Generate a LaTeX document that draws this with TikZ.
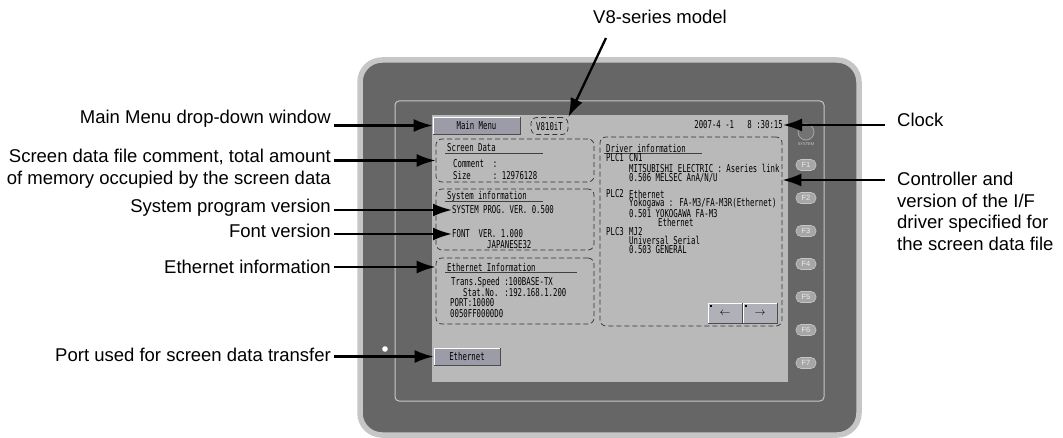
\documentclass[tikz,border=0pt]{standalone}
\usepackage{fontspec}
\setmainfont{Liberation Sans}
\newfontfamily\lcdfont[FakeStretch=0.68]{DejaVu Sans Mono}
\usepackage{tikz}
\usetikzlibrary{positioning,arrows.meta}

\definecolor{bezel}{HTML}{666666}
\definecolor{bezelrim}{HTML}{C6C6C6}
\definecolor{lcd}{HTML}{B9B9B9}
\definecolor{keyfill}{HTML}{9C9CA8}
\definecolor{fkeyfill}{HTML}{A6A6A6}

\tikzset{
	pointer/.style={line width=2.3pt, -{Latex[length=19pt,width=13pt]}}
}

\begin{document}
\begin{tikzpicture}[
			x=1pt, y=-1pt,
			lbl/.style={font=\fontsize{18.5}{21.5}\selectfont, inner sep=1pt},
			lcdtxt/.style={font=\lcdfont\fontsize{10.8}{10}\selectfont, text=black, inner sep=0pt},
			panel/.style={draw=black!80, line width=0.7pt, dash pattern=on 5pt off 3pt, rounded corners=6pt, inner sep=0pt},
			titlerule/.style={draw=black!75, line width=0.7pt},
			softkey/.style={lcdtxt, fill=keyfill, draw=black!70, line width=0.7pt},
			fkey/.style={fill=fkeyfill, draw=bezelrim, line width=0.6pt, rounded corners=5pt,
				minimum width=20pt, minimum height=11pt, inner sep=0pt,
				font=\fontsize{7.5}{7.5}\selectfont, text=white!92!black}
			]
			
			\useasboundingbox (0,0) rectangle (1063,438);
			
			%%%%%%%%%%%%%%%%%%%%%%%%%%%%%%%%%%%%%%%%%%%%%%%%%%%%%%%%%%%%
			% Bezel
			%%%%%%%%%%%%%%%%%%%%%%%%%%%%%%%%%%%%%%%%%%%%%%%%%%%%%%%%%%%%
			
			\draw[bezelrim, line width=5.5pt, fill=bezel, rounded corners=22pt] (360,60) rectangle (859,435);
			
			\draw[bezelrim, line width=1pt, rounded corners=4pt] (395,101) rectangle (824,401);
			
			\fill[lcd] (432,115) rectangle (788,382);
			
			\fill[white] (385,349) circle (2.8pt);
			
			%%%%%%%%%%%%%%%%%%%%%%%%%%%%%%%%%%%%%%%%%%%%%%%%%%%%%%%%%%%%
			% Side keys
			%%%%%%%%%%%%%%%%%%%%%%%%%%%%%%%%%%%%%%%%%%%%%%%%%%%%%%%%%%%%
			
			\node[circle, fill=black!55, draw=black!35, line width=0.8pt, minimum size=16pt, inner sep=0pt] (syskey) at (806,132) {};
			
			\node[font=\fontsize{4}{4}\selectfont, text=white!80!black, inner sep=0pt, below=2pt of syskey] (syslbl) {SYSTEM};
			
			\foreach \k in {1,...,7}
			\node[fkey] (f\k) at (806,132+33*\k) {F\k};
			
			%%%%%%%%%%%%%%%%%%%%%%%%%%%%%%%%%%%%%%%%%%%%%%%%%%%%%%%%%%%%
			% Top row of the screen
			%%%%%%%%%%%%%%%%%%%%%%%%%%%%%%%%%%%%%%%%%%%%%%%%%%%%%%%%%%%%
			
			\node[softkey, minimum width=87pt, minimum height=17pt] (menubtn) at (476.5,125.5) {Main Menu};
			
			\node[panel, lcdtxt, minimum width=37pt, minimum height=17pt] (model) at (549.5,126) {V810iT};
			
			\node[lcdtxt, anchor=east] (clock) at (783,125) {2007-4~-1~~~8~:30:15};
			
			%%%%%%%%%%%%%%%%%%%%%%%%%%%%%%%%%%%%%%%%%%%%%%%%%%%%%%%%%%%%
			% Left panels
			%%%%%%%%%%%%%%%%%%%%%%%%%%%%%%%%%%%%%%%%%%%%%%%%%%%%%%%%%%%%
			
			% Screen data
			
			\node[panel, minimum width=158pt, minimum height=43pt] (scrbox) at (515,160.5) {};
			
			\node[lcdtxt, anchor=west] (scrttl) at (447,148) {Screen Data};
			\draw[titlerule] ([xshift=-2pt,yshift=-1.5pt]scrttl.base west) -- ++(98,0);
			
			\node[lcdtxt, anchor=west] (comment) at (453,164) {Comment~~:};
			\node[lcdtxt, anchor=west] (size) at (453,175) {Size~~~~~:~12976128};
			
			% System information
			
			\node[panel, minimum width=158pt, minimum height=61pt] (sysbox) at (515,219.5) {};
			
			\node[lcdtxt, anchor=west] (systtl) at (447,197) {System information};
			\draw[titlerule] ([xshift=-2pt,yshift=-1.5pt]systtl.base west) -- ++(98,0);
			
			\node[lcdtxt, anchor=west] (sysver) at (452,210) {SYSTEM PROG. VER. 0.500};
			\node[lcdtxt, anchor=west] (fontver) at (452,234) {FONT~~VER. 1.000};
			\node[lcdtxt, anchor=west] (fontname) at (487,245) {JAPANESE32};
			
			% Ethernet information
			
			\node[panel, minimum width=158pt, minimum height=66pt] (ethbox) at (515,291) {};
			
			\node[lcdtxt, anchor=west] (ethttl) at (447,267) {Ethernet Information};
			\draw[titlerule] ([xshift=-2pt,yshift=-1.5pt]ethttl.base west) -- ++(132,0);
			
			\node[lcdtxt, anchor=west] (speed) at (451,283) {Trans.Speed :100BASE-TX};
			\node[lcdtxt, anchor=west] (statno) at (463,293) {Stat.No. :192.168.1.200};
			\node[lcdtxt, anchor=west] (port) at (450,303) {PORT:10000};
			\node[lcdtxt, anchor=west] (mac) at (450,314) {0050FF0000D0};
			
			\node[softkey, minimum width=66pt, minimum height=17pt] (ethbtn) at (467,356.5) {Ethernet};
			
			%%%%%%%%%%%%%%%%%%%%%%%%%%%%%%%%%%%%%%%%%%%%%%%%%%%%%%%%%%%%
			% Driver panel
			%%%%%%%%%%%%%%%%%%%%%%%%%%%%%%%%%%%%%%%%%%%%%%%%%%%%%%%%%%%%
			
			\node[panel, minimum width=182pt, minimum height=189pt] (drvbox) at (691,231.5) {};
			
			\node[lcdtxt, anchor=west] (drvttl) at (606,148) {Driver information};
			\draw[titlerule] ([xshift=-2pt,yshift=-1.5pt]drvttl.base west) -- ++(98,0);
			
			\foreach \x/\y/\txt in {
				606/158/PLC1, 629/158/CN1,
				629/168/{MITSUBISHI ELECTRIC : Aseries link},
				629/178/{0.506 MELSEC AnA/N/U},
				606/194/PLC2, 629/194/Ethernet,
				629/204/{Yokogawa : FA-M3/FA-M3R(Ethernet)},
				629/213.5/{0.501 YOKOGAWA FA-M3},
				658/222.5/Ethernet,
				606/231.5/PLC3, 629/231.5/MJ2,
				629/240.5/{Universal Serial},
				629/249.5/{0.503 GENERAL}}
			\node[lcdtxt, anchor=west] (drv\x-\y) at (\x,\y) {\txt};
			
			\node[softkey, fill=keyfill!80!white, minimum width=34pt, minimum height=20pt] (leftbtn) at (725,313) {$\leftarrow$};
			\node[softkey, fill=keyfill!80!white, minimum width=34pt, minimum height=20pt] (rightbtn) at (760,313) {$\rightarrow$};
			
			% key highlights
			
			\foreach \b in {menubtn,ethbtn,leftbtn,rightbtn}
			\draw[white, line width=0.8pt] ([shift={(0.5,-0.5)}]\b.south west) |- ([shift={(-0.5,0.5)}]\b.north east);
			
			\foreach \b in {leftbtn,rightbtn}
			\fill[black] ([shift={(2,2)}]\b.north west) rectangle ++(2,2);
			
			%%%%%%%%%%%%%%%%%%%%%%%%%%%%%%%%%%%%%%%%%%%%%%%%%%%%%%%%%%%%
			% Callouts
			%%%%%%%%%%%%%%%%%%%%%%%%%%%%%%%%%%%%%%%%%%%%%%%%%%%%%%%%%%%%
			
			\node[lbl, anchor=base east] (lblmenu) at (332,124) {Main Menu drop-down window};
			
			\node[lbl, anchor=north east, align=right] (lblscreen) at (332,148)
			{Screen data file comment, total amount\\of memory occupied by the screen data};
			
			\node[lbl, anchor=base east] (lblsys) at (332,213) {System program version};
			
			\node[lbl, anchor=base east] (lblfont) at (332,238) {Font version};
			
			\node[lbl, anchor=base east] (lbleth) at (332,274) {Ethernet information};
			
			\node[lbl, anchor=base east] (lblport) at (332,361) {Port used for screen data transfer};
			
			\node[lbl, anchor=base west] (lblclock) at (896,127) {Clock};
			
			\node[lbl, anchor=north west, align=left] (lblctrl) at (896,171)
			{Controller and\\version of the I/F\\driver specified for\\the screen data file};
			
			\node[lbl, anchor=base] (lblmodel) at (660,24) {V8-series model};
			
			\coordinate (ctrltip) at (drvbox.east |- 0,180);
			\coordinate (modeltail) at (606,38);
			
			% left side
			
			\draw[pointer, shorten <=2pt] (lblmenu.east |- menubtn) -- (menubtn.west);
			
			\draw[pointer, shorten <=2pt] (lblscreen.east |- scrbox) -- (scrbox.west);
			
			\draw[pointer, shorten <=2pt] (lblsys.east |- sysver) -- (sysver.west);
			
			\draw[pointer, shorten <=2pt] (lblfont.east |- fontver) -- (fontver.west);
			
			\draw[pointer, shorten <=2pt] (lbleth.east |- ethttl) -- (ethbox.west |- ethttl);
			
			\draw[pointer, shorten <=2pt] (lblport.east |- ethbtn) -- (ethbtn.west);
			
			% right side
			
			\draw[pointer, shorten <=11pt] (lblclock.west |- clock) -- (clock.east);
			
			\draw[pointer, shorten <=11pt] (lblctrl.west |- ctrltip) -- (ctrltip);
			
			% model
			
			\draw[pointer] (modeltail) -- (model.north east);
			
			%%%%%%%%%%%%%%%%%%%%%%%%%%%%%%%%%%%%%%%%%%%%%%%%%%%%%%%%%%%%
			
\end{tikzpicture}
\end{document}
